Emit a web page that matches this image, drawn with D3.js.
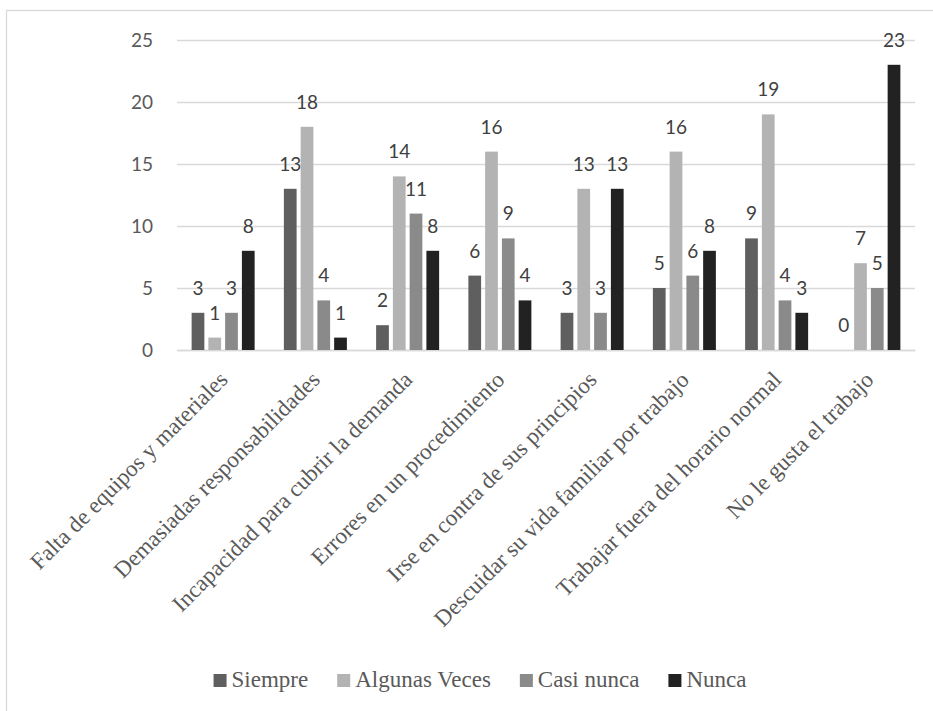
<!DOCTYPE html>
<html>
<head>
<meta charset="utf-8">
<script src="https://cdn.jsdelivr.net/npm/d3@7"></script>
<style>
  html, body { margin: 0; padding: 0; background: #ffffff; }
  svg { display: block; }
</style>
</head>
<body>
<svg id="chart" width="933" height="711"></svg>
<script>
const categories = [
  "Falta de equipos y materiales",
  "Demasiadas responsabilidades",
  "Incapacidad para cubrir la demanda",
  "Errores en un procedimiento",
  "Irse en contra de sus principios",
  "Descuidar su vida familiar por trabajo",
  "Trabajar fuera del horario normal",
  "No le gusta el trabajo"
];
const seriesNames = ["Siempre", "Algunas Veces", "Casi nunca", "Nunca"];
const siempre      = [3, 13, 2, 6, 3, 5, 9, 0];
const algunasVeces = [1, 18, 14, 16, 13, 16, 19, 7];
const casiNunca    = [3, 4, 11, 9, 3, 6, 4, 5];
const nunca        = [8, 1, 8, 4, 13, 8, 3, 23];
const yTicks = [0, 5, 10, 15, 20, 25];
const seriesColors = ["#5f5f5f", "#b3b3b3", "#8a8a8a", "#222222"];

const seriesValues = [siempre, algunasVeces, casiNunca, nunca];

const svg = d3.select("#chart");

// outer chart border (only top and left visible in the crop)
svg.append("rect")
  .attr("x", 6.5).attr("y", 10.5)
  .attr("width", 1000).attr("height", 1000)
  .attr("fill", "none")
  .attr("stroke", "#d9d9d9")
  .attr("stroke-width", 1.3);

const plotLeft = 177, plotRight = 915, plotTop = 40, plotBottom = 350;

const y = d3.scaleLinear().domain([0, 25]).range([plotBottom, plotTop]);
const x0 = d3.scaleBand().domain(categories).range([plotLeft, plotRight])
  .paddingInner(0.317).paddingOuter(0.1585);
const x1 = d3.scaleBand().domain(seriesNames).range([0, x0.bandwidth()])
  .paddingInner(0.24).paddingOuter(0);

// y axis with gridlines
const yAxis = svg.append("g")
  .attr("transform", `translate(${plotLeft},0)`)
  .call(d3.axisLeft(y).tickValues(yTicks).tickSize(-(plotRight - plotLeft)).tickPadding(24));
yAxis.select(".domain").remove();
yAxis.selectAll(".tick line").attr("stroke", "#d9d9d9").attr("stroke-width", 1.3);
yAxis.selectAll(".tick text")
  .attr("fill", "#595959")
  .style("font-family", "Lato, 'Open Sans', sans-serif")
  .style("font-size", "19px");

// x axis
const xAxis = svg.append("g")
  .attr("transform", `translate(0,${plotBottom})`)
  .call(d3.axisBottom(x0).tickSize(0).tickSizeOuter(0));
xAxis.select(".domain").attr("stroke", "#d9d9d9").attr("stroke-width", 1.5);
xAxis.selectAll(".tick text")
  .attr("x", 0).attr("y", 0).attr("dy", 0)
  .attr("transform", "translate(6,31) rotate(-45)")
  .attr("text-anchor", "end")
  .attr("fill", "#595959")
  .style("font-family", "'Liberation Serif', 'Times New Roman', serif")
  .style("font-size", "23px");

// bars
const data = [];
categories.forEach((c, i) => {
  seriesNames.forEach((s, j) => {
    data.push({ cat: c, series: s, value: seriesValues[j][i], color: seriesColors[j] });
  });
});

const groups = svg.append("g");
groups.selectAll("rect")
  .data(data)
  .join("rect")
  .attr("x", d => x0(d.cat) + x1(d.series))
  .attr("y", d => y(d.value))
  .attr("width", x1.bandwidth())
  .attr("height", d => y(0) - y(d.value))
  .attr("fill", d => d.color);

// data labels
svg.append("g").selectAll("text")
  .data(data)
  .join("text")
  .attr("x", d => x0(d.cat) + x1(d.series) + x1.bandwidth() / 2)
  .attr("y", d => y(d.value) - 18)
  .attr("text-anchor", "middle")
  .attr("fill", "#404040")
  .style("font-family", "Lato, 'Open Sans', sans-serif")
  .style("font-size", "19px")
  .text(d => d.value);

// legend
const legend = svg.append("g");
const items = legend.selectAll("g").data(seriesNames).join("g");
items.append("rect")
  .attr("width", 13).attr("height", 13)
  .attr("y", -13)
  .attr("fill", (d, i) => seriesColors[i]);
items.append("text")
  .attr("x", 18)
  .attr("y", 0)
  .attr("fill", "#595959")
  .style("font-family", "'Liberation Serif', 'Times New Roman', serif")
  .style("font-size", "23px")
  .text(d => d);
let widths = [];
items.each(function() {
  widths.push(18 + d3.select(this).select("text").node().getComputedTextLength());
});
const gap = 29;
const total = d3.sum(widths) + gap * (widths.length - 1);
let cx = 480 - total / 2;
items.each(function(d, i) {
  d3.select(this).attr("transform", `translate(${cx},687)`);
  cx += widths[i] + gap;
});
</script>
</body>
</html>
